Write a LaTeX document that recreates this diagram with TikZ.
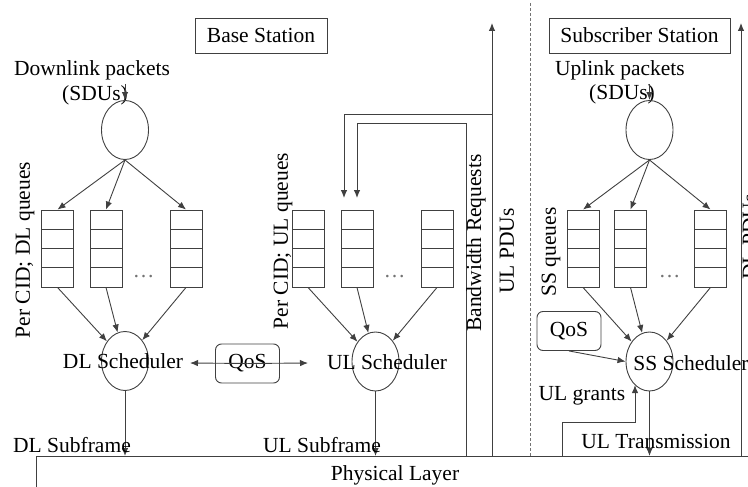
\documentclass[tikz,border=0pt]{standalone}
\usepackage{fontspec}
\setmainfont{Liberation Serif}
\usetikzlibrary{arrows.meta,shapes.geometric,calc}
\tikzset{
  ln/.style={draw=black!75, line width=0.9pt},
  arr/.style={ln, -{Latex[length=8pt,width=6.5pt]}},
  lbl/.style={font=\fontsize{21.5}{24}\selectfont, inner sep=0pt, text=black},
  queue/.style={ln, rectangle, minimum width=32pt, minimum height=77pt, inner sep=0pt,
    path picture={\foreach \k in {1,2,3}
      \draw[black!75, line width=0.9pt]
        ($(path picture bounding box.north west)!\k/4!(path picture bounding box.south west)$) --
        ($(path picture bounding box.north east)!\k/4!(path picture bounding box.south east)$);}},
  proc/.style={ln, ellipse, minimum width=47pt, minimum height=59pt, inner sep=0pt},
  titlebox/.style={lbl, draw=black!75, line width=0.9pt, rectangle, minimum height=35pt},
  qosbox/.style={lbl, draw=black!75, line width=0.9pt, rounded corners=6pt, minimum width=64pt, minimum height=39pt},
  dotsl/.style={font=\fontsize{21.5}{24}\selectfont, inner sep=0pt, text=black!55, anchor=base},
  vlbl/.style={lbl, rotate=90},
}
\begin{document}
\begin{tikzpicture}[x=1pt, y=-1pt]
\useasboundingbox (0,0) rectangle (748,487);
\clip (0,0) rectangle (748,487);

% ---------- station titles ----------
\node[titlebox, minimum width=132pt] (bs) at (261,35.5) {Base Station};
\node[titlebox, minimum width=181pt] (ssb) at (639.5,35.5) {Subscriber Station};

% ---------- separator between BS and SS ----------
\coordinate (sepT) at (530,3);
\coordinate (sepB) at (530,456);
\draw[black!55, line width=0.9pt, dash pattern=on 3pt off 2pt] (sepT) -- (sepB);

% ---------- physical layer ----------
\node[ln, rectangle, anchor=north west, minimum width=760pt, minimum height=60pt, inner sep=0pt] (phys) at (36,456) {};
\node[lbl, anchor=base] (physt) at (395,480) {Physical Layer};

% ---------- downlink side ----------
\node[lbl, anchor=base] (dlin) at (92,76) {Downlink packets};
\node[lbl, anchor=base] (dlsdu) at (95,101) {(SDUs)};
\node[proc] (dlc) at (125,130) {};
\coordinate (dlsrc) at (125,84);
\draw[arr] (dlsrc) -- (dlc.north);

\node[queue] (dq1) at (57.5,248.5) {};
\node[queue] (dq2) at (106,248.5) {};
\node[queue] (dq3) at (186,248.5) {};
\node[dotsl] (dqd) at (143.5,277) {\dots};
\node[vlbl] (dql) at (25,250) {Per CID; DL queues};

\foreach \q in {dq1,dq2,dq3} \draw[arr] (dlc.south) -- (\q.north);

\node[proc] (dls) at (125,361) {};
\node[lbl, anchor=base] (dlst) at (123,368) {DL Scheduler};
\foreach \q in {dq1,dq2,dq3} \draw[arr] (\q.south) -- (dls);

\draw[arr] (dls.south) -- (dls.south |- phys.north);
\node[lbl, anchor=base] (dlsf) at (72,452) {DL Subframe};

% ---------- QoS between the two BS schedulers ----------
\node[qosbox] (qos1) at (247.5,363.5) {QoS};
\coordinate (qL) at (190,363);
\coordinate (qR) at (308,363);
\draw[arr] (qos1.center) -- (qL);
\draw[arr] (qos1.center) -- (qR);

% ---------- uplink side of the BS ----------
\node[queue] (uq1) at (308,248.5) {};
\node[queue] (uq2) at (357,248.5) {};
\node[queue] (uq3) at (437,248.5) {};
\node[dotsl] (uqd) at (394.5,277) {\dots};
\node[vlbl] (uql) at (283,241) {Per CID; UL queues};

\node[proc] (uls) at (375.5,361.5) {};
\node[lbl, anchor=base] (ulst) at (387,369) {UL Scheduler};
\foreach \q in {uq1,uq2,uq3} \draw[arr] (\q.south) -- (uls);

\draw[arr] (uls.south) -- (uls.south |- phys.north);
\node[lbl, anchor=base] (ulsf) at (322,452) {UL Subframe};

% UL PDUs going up, and bandwidth requests fed back to the UL queues
\coordinate (pduB) at (492,456);
\coordinate (pduT) at (492,23);
\draw[arr] (pduB) -- (pduT);
\node[vlbl] (pdul) at (507,251) {UL PDUs};
\coordinate (fbA) at (492,114);
\coordinate (fbAend) at (344,198);
\draw[arr] (fbA) -| (fbAend);

\coordinate (bwB) at (466,456);
\coordinate (bwC) at (357,123);
\coordinate (bwEnd) at (357,198);
\draw[arr] (bwB) |- (bwC) -- (bwEnd);
\node[vlbl] (bwl) at (476,243) {Bandwidth Requests};

% ---------- subscriber station ----------
\node[lbl, anchor=base] (ulin) at (620,76) {Uplink packets};
\node[lbl, anchor=base] (ulsdu) at (622,100) {(SDUs)};
\node[proc] (ssc) at (649.5,130) {};
\coordinate (ulsrc) at (649.5,84);
\draw[arr] (ulsrc) -- (ssc.north);

\node[queue] (sq1) at (583,248.5) {};
\node[queue] (sq2) at (630.5,248.5) {};
\node[queue] (sq3) at (710.5,248.5) {};
\node[dotsl] (sqd) at (669.5,277) {\dots};
\node[vlbl] (sql) at (551,252) {SS queues};
\foreach \q in {sq1,sq2,sq3} \draw[arr] (ssc.south) -- (\q.north);

\node[proc] (sss) at (649.5,361.5) {};
\node[lbl, anchor=base] (ssst) at (691,370) {SS Scheduler};
\foreach \q in {sq1,sq2,sq3} \draw[arr] (\q.south) -- (sss);

\node[qosbox] (qos2) at (569,331) {QoS};
\draw[arr] (qos2.south) -- (sss.west);

% UL grants from the physical layer
\coordinate (g0) at (562,456);
\coordinate (gc) at (635,422);
\draw[arr] (g0) |- (gc) -- (gc |- sss.-122);
\node[lbl, anchor=base] (grt) at (582,400) {UL grants};

\draw[arr] (sss.south) -- (sss.south |- phys.north);
\node[lbl, anchor=base] (ultx) at (656,448) {UL Transmission};

% DL PDUs going up on the SS side
\coordinate (dpB) at (741,456);
\coordinate (dpT) at (741,23);
\draw[arr] (dpB) -- (dpT);
\node[vlbl] (dpl) at (750,237) {DL PDUs};
\end{tikzpicture}
\end{document}
